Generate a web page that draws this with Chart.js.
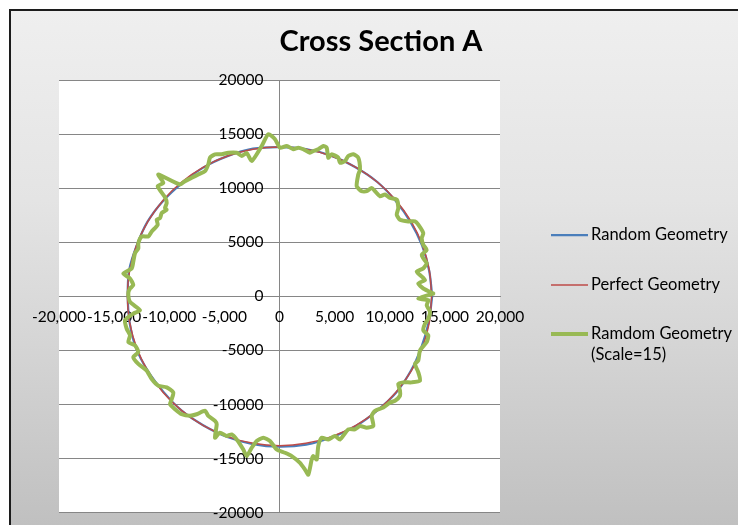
<!DOCTYPE html>
<html>
<head>
<meta charset="utf-8">
<title>Cross Section A</title>
<script src="https://cdn.jsdelivr.net/npm/chart.js@4.4.0/dist/chart.umd.min.js"></script>
<style>
	body { margin: 0; background: #fff; overflow: hidden; }
	#frame {
		position: absolute; left: 9px; top: 9px; width: 760px; height: 540px;
		border-left: 2px solid #1c1c1c; border-top: 2px solid #1c1c1c;
		background: linear-gradient(#efefef 0%, #e4e4e4 35%, #d6d6d6 60%, #bdbdbd 100%);
	}
	#myChart { position: absolute; left: 0; top: 0; }
</style>
</head>
<body>
<div id="frame"></div>
<canvas id="myChart" width="738" height="525"></canvas>
<script>
// axis ticks
var xTicks = [-20000, -15000, -10000, -5000, 0, 5000, 10000, 15000, 20000];
var yTicks = [-20000, -15000, -10000, -5000, 0, 5000, 10000, 15000, 20000];

// Random Geometry (blue)
var blueX = [13850, 13571, 12930, 11890, 10525, 8870, 6890, 4726, 2401, 0, -2406, -4716, -6885, -8806, -10540, -11968, -12949, -13640,
	-13760, -13600, -13024, -11942, -10525, -8870, -6890, -4730, -2408, 0, 2417, 4740, 6920, 8858, 10586, 11916, 12874, 13531, 13850];
var blueY = [0, 2392, 4706, 6865, 8832, 10571, 11934, 12987, 13620, 13800, 13649, 12958, 11925, 10494, 8845, 6910, 4713, 2404,
	0, -2397, -4740, -6895, -8832, -10571, -11934, -12996, -13659, -13900, -13709, -13024, -11986, -10556, -8883, -6880, -4685, -2385, 0];

// Perfect Geometry (red)
var redX = [13800, 13590, 12968, 11951, 10571, 8870, 6900, 4720, 2396, 0, -2396, -4720, -6900, -8870, -10571, -11951, -12968, -13590,
	-13800, -13590, -12968, -11951, -10571, -8870, -6900, -4720, -2396, 0, 2396, 4720, 6900, 8870, 10571, 11951, 12968, 13590, 13800];
var redY = [0, 2396, 4720, 6900, 8870, 10571, 11951, 12968, 13590, 13800, 13590, 12968, 11951, 10571, 8870, 6900, 4720, 2396,
	0, -2396, -4720, -6900, -8870, -10571, -11951, -12968, -13590, -13800, -13590, -12968, -11951, -10571, -8870, -6900, -4720, -2396, 0];

// Ramdom Geometry (Scale=15) (green)
var greenX = [13950, 13043, 12589, 13197, 12743, 12444, 13043, 13351, 13043, 12898, 13351, 13043, 12898, 13043, 12589, 12290, 11682, 10929,
	10630, 10775, 10630, 10022, 9569, 9115, 8662, 8363, 7909, 7456, 7002, 7147, 7301, 7147, 6694, 6240, 5941, 5487,
	5333, 4735, 4426, 4281, 3973, 3519, 3066, 2766, 2159, 1705, 1252, 653, 45, -408, -1016, -1614,
	-2521, -2975, -3428, -3882, -4644, -5242, -5850, -6304, -6458, -6757, -7365, -7963, -8571, -9025, -10993, -10539,
	-11047, -10385, -10231, -10385, -10231, -10684, -10839, -11138, -11047, -11591, -11900, -12498, -12807, -12807, -13106, -13260,
	-13405, -14167, -13560, -13260, -13560, -13714, -13560, -12653, -13260, -14013, -13859, -13560, -13714, -13106, -12807, -13260,
	-12807, -12045, -11591, -10993, -10231, -9632, -9777, -9932, -9478, -8870, -8118, -7510, -6757, -6458, -5850, -5696,
	-5850, -5397, -4789, -4335, -3882, -3283, -2975, -2521, -2068, -1469, -862, -254, 499, 1107, 1859, 2313,
	2612, 2921, 3066, 3374, 3519, 3828, 4426, 5034, 5487, 6240, 6848, 7301, 7909, 8508, 8363, 8662,
	9415, 10022, 10476, 10929, 10929, 10775, 11229, 11991, 12743, 12589, 12290, 12589, 12743, 13351, 13496, 13043,
	13197, 13496, 13650, 13351, 13496, 12589, 13496, 13950];
var greenY = [260, 725, 1190, 1507, 1972, 2279, 2585, 3050, 3515, 3832, 4297, 4762, 5375, 5840, 6622, 6929, 6929, 7087,
	7552, 8165, 8947, 9095, 9412, 9254, 9719, 10025, 9719, 9719, 10184, 11272, 11737, 12815, 13132, 12974, 12509, 12350,
	12815, 13132, 12815, 13745, 13904, 13597, 13439, 13280, 13597, 13745, 13597, 13904, 13745, 14527, 14992, 13904,
	12509, 13253, 12974, 13280, 13280, 13132, 13132, 12815, 12202, 11579, 11272, 10955, 10649, 10342, 11272, 10490,
	10184, 9161, 8630, 8165, 8017, 7700, 7235, 7087, 6622, 5999, 5534, 5534, 4910, 4445, 3980, 3209,
	2585, 2093, 1655, 1042, 725, 260, -512, -1283, -1600, -2213, -2995, -3608, -4232, -4538, -5162, -5627,
	-6250, -6863, -7645, -8258, -8417, -8882, -9505, -9970, -10435, -10900, -11048, -10900, -10583, -11048, -11513, -11830,
	-13067, -12602, -12908, -12760, -13225, -14155, -14768, -13997, -13373, -13067, -13373, -14155, -14462, -14768, -15392, -16015,
	-16480, -15085, -14768, -15085, -13838, -13067, -13225, -12908, -13225, -12295, -12295, -11978, -12137, -11978, -11048, -10583,
	-10277, -9812, -9653, -9188, -8723, -8110, -7952, -7952, -7793, -7022, -6250, -5933, -5003, -4232, -3608, -3143,
	-2530, -2065, -1442, -818, -353, -205, 112, 260];

var seriesNames = ['Random Geometry', 'Perfect Geometry', 'Ramdom Geometry (Scale=15)'];
var seriesColors = ['#4a7ebb', '#be4b48', '#98b954'];

function toPoints(xs, ys) {
	var pts = [];
	for (var i = 0; i < xs.length; i++) pts.push({x: xs[i], y: ys[i]});
	return pts;
}

Chart.defaults.font.family = 'Lato, "Open Sans", sans-serif';
Chart.defaults.color = '#000';

// white plot area
var plotBg = {
	id: 'plotBg',
	beforeDraw: function (chart) {
		var a = chart.chartArea, ctx = chart.ctx;
		ctx.save();
		ctx.fillStyle = '#fff';
		ctx.fillRect(a.left, a.top, a.right - a.left, a.bottom - a.top);
		ctx.restore();
	}
};

// title and excel-like legend
var decor = {
	id: 'decor',
	afterDraw: function (chart) {
		var ctx = chart.ctx;
		ctx.save();
		ctx.fillStyle = '#000';
		ctx.textAlign = 'center';
		ctx.textBaseline = 'middle';
		ctx.font = 'bold 29px Lato, sans-serif';
		ctx.fillText('Cross Section A', 381, 42);

		var rows = [
			{lines: ['Random Geometry'], y: 235, w: 2.25},
			{lines: ['Perfect Geometry'], y: 285, w: 1.5},
			{lines: ['Ramdom Geometry', '(Scale=15)'], y: 334, w: 4}
		];
		ctx.textAlign = 'left';
		ctx.font = '16.5px Lato, sans-serif';
		rows.forEach(function (r, i) {
			ctx.strokeStyle = seriesColors[i];
			ctx.lineWidth = r.w;
			ctx.beginPath();
			ctx.moveTo(551, r.y);
			ctx.lineTo(588, r.y);
			ctx.stroke();
			r.lines.forEach(function (t, j) {
				ctx.fillText(t, 591, r.y + j * 21);
			});
		});
		ctx.restore();
	}
};

var ctx = document.getElementById('myChart').getContext('2d');
var myChart = new Chart(ctx, {
	type: 'scatter',
	data: {
		datasets: [{
			label: seriesNames[0],
			data: toPoints(blueX, blueY),
			borderColor: seriesColors[0],
			borderWidth: 2.25,
			tension: 0.35,
			order: 3
		}, {
			label: seriesNames[1],
			data: toPoints(redX, redY),
			borderColor: seriesColors[1],
			borderWidth: 1.5,
			tension: 0.35,
			order: 2
		}, {
			label: seriesNames[2],
			data: toPoints(greenX, greenY),
			borderColor: seriesColors[2],
			borderWidth: 4,
			tension: 0.2,
			order: 1
		}]
	},
	options: {
		responsive: false,
		animation: false,
		showLine: true,
		elements: {
			point: {radius: 0, hoverRadius: 0},
			line: {borderJoinStyle: 'round', borderCapStyle: 'round', fill: false}
		},
		layout: {padding: {left: 59, top: 80, right: 238, bottom: 5}},
		plugins: {legend: {display: false}, title: {display: false}, tooltip: {enabled: false}},
		scales: {
			x: {
				type: 'linear',
				min: -20000, max: 20000,
				position: {y: 0},
				// only the zero line is shown, as the vertical axis
				grid: {drawTicks: false, color: function (c) { return c.tick && c.tick.value === 0 ? '#868686' : 'rgba(0,0,0,0)'; }},
				border: {color: '#868686', width: 1},
				afterBuildTicks: function (s) { s.ticks = xTicks.map(function (v) { return {value: v}; }); },
				ticks: {font: {size: 15.5}, padding: 11, autoSkip: false, maxRotation: 0}
			},
			y: {
				type: 'linear',
				min: -20000, max: 20000,
				// labels sit a little left of the zero line
				position: {x: -1450},
				grid: {color: '#868686', drawTicks: false},
				border: {display: false},
				afterBuildTicks: function (s) { s.ticks = yTicks.map(function (v) { return {value: v}; }); },
				ticks: {font: {size: 15.5}, autoSkip: false,
					callback: function (v) { return String(v); }}
			}
		}
	},
	plugins: [plotBg, decor]
});
</script>
</body>
</html>
